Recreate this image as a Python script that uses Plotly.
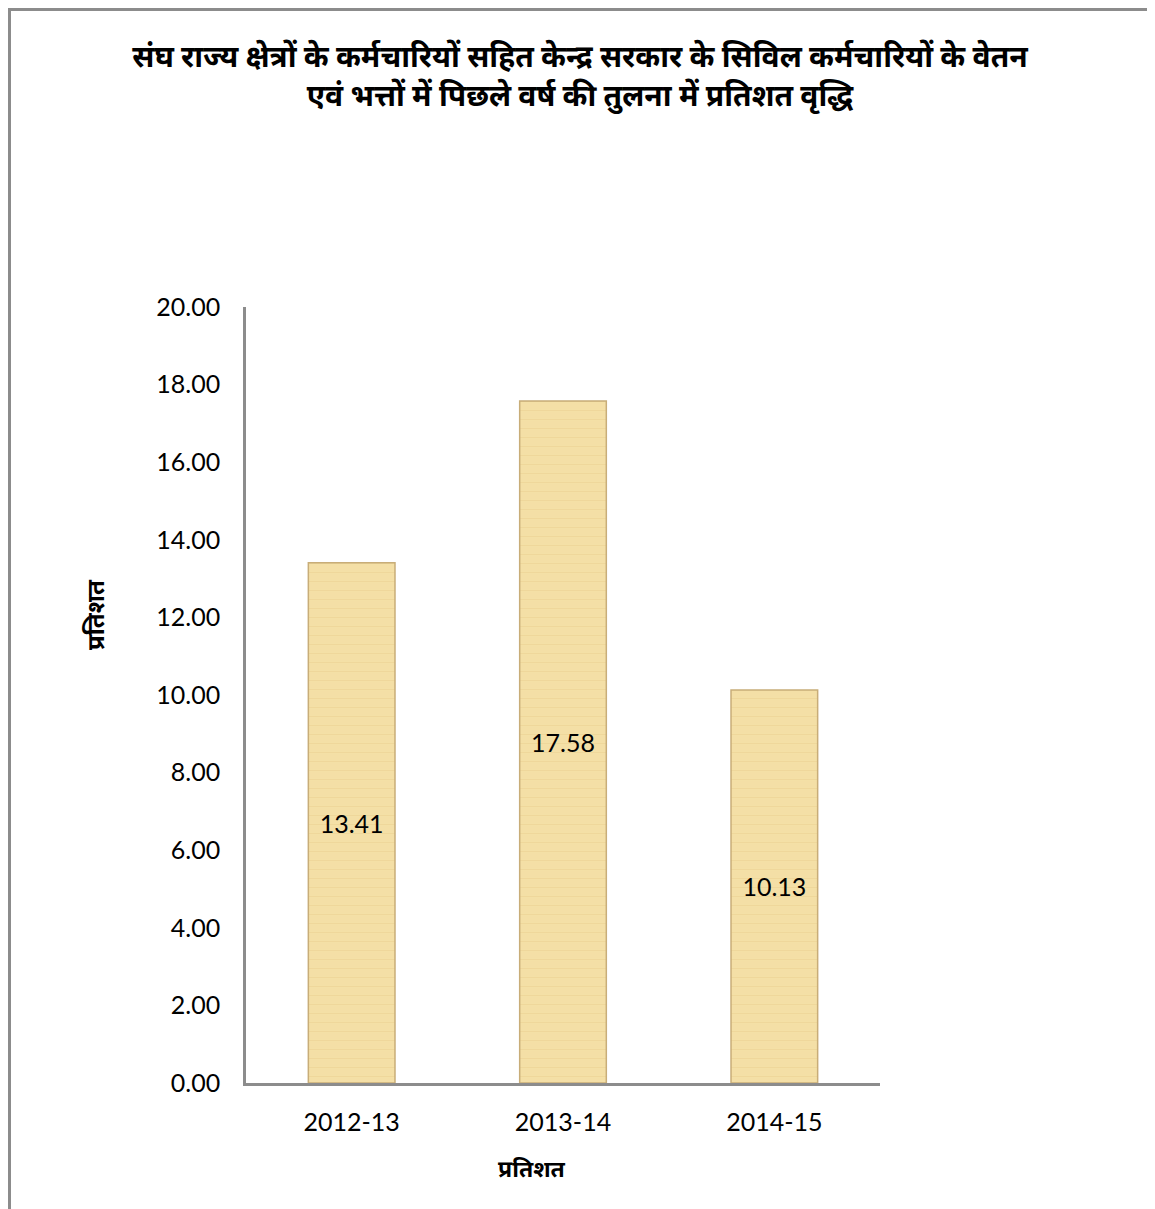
import plotly.graph_objects as go

categories = ["2012-13", "2013-14", "2014-15"]
values = [13.41, 17.58, 10.13]
value_labels = ["13.41", "17.58", "10.13"]
y_ticks = [0, 2, 4, 6, 8, 10, 12, 14, 16, 18, 20]
y_tick_labels = ["0.00", "2.00", "4.00", "6.00", "8.00", "10.00", "12.00", "14.00", "16.00", "18.00", "20.00"]

title_text = ("<b>संघ राज्य क्षेत्रों के कर्मचारियों सहित केन्द्र सरकार के सिविल कर्मचारियों के वेतन<br>"
              "एवं भत्तों में पिछले वर्ष की तुलना में प्रतिशत वृद्धि</b>")
axis_title = "<b>प्रतिशत</b>"

# page offset (body margin) compensation
OX, OY = 7, 8
W, H = 1155, 1209
L, T = 245 - OX, 307 - OY
pw, ph = 879 - 245, 1083 - 307
R = W - L - pw
B = H - T - ph

fig = go.Figure()
fig.add_trace(go.Bar(
    x=categories, y=values, text=value_labels,
    textposition="inside", insidetextanchor="middle",
    textfont=dict(size=25, color="black", family="Lato, sans-serif"),
    marker=dict(color="#F4DFA6", line=dict(color="#C8AD78", width=1.5),
                pattern=dict(shape="-", fgcolor="#E9D08F", size=9, solidity=0.12)),
    width=0.41,
))

def fx(p):
    # figure pixel -> paper x
    return (p - L) / pw

def fy(p):
    # figure pixel -> paper y
    return (T + ph - p) / ph

fig.update_layout(
    width=W, height=H,
    margin=dict(l=L, r=R, t=T, b=B),
    paper_bgcolor="white", plot_bgcolor="white",
    showlegend=False,
    font=dict(family="Lato, 'Noto Sans', sans-serif", color="black"),
    title=dict(text=title_text, x=(579 - OX) / W, xref="container", xanchor="center",
               y=1 - 59 / H, yanchor="middle",
               font=dict(size=30, color="black")),
    xaxis=dict(showline=True, linecolor="#8C8C8C", linewidth=2.5,
               showgrid=False, ticks="", tickfont=dict(size=25),
               ticklabelstandoff=15),
    yaxis=dict(range=[0, 20], tickvals=y_ticks, ticktext=y_tick_labels,
               showline=True, linecolor="#8C8C8C", linewidth=2.5,
               showgrid=False, ticks="", tickfont=dict(size=25),
               ticklabelstandoff=18),
    annotations=[
        dict(text=axis_title, textangle=-90, xref="paper", yref="paper",
             x=fx(93 - OX), y=fy(615 - OY), xanchor="center", yanchor="middle",
             showarrow=False, font=dict(size=24, color="black")),
        dict(text=axis_title, xref="paper", yref="paper",
             x=fx(531 - OX), y=fy(1168 - OY), xanchor="center", yanchor="middle",
             showarrow=False, font=dict(size=23, color="black")),
    ],
    shapes=[dict(type="rect", xref="paper", yref="paper",
                 x0=fx(1.5), x1=fx(W + 20), y0=fy(H + 20), y1=fy(1.5),
                 line=dict(color="#8C8C8C", width=3), layer="below")],
)

fig.write_html("out.html")
